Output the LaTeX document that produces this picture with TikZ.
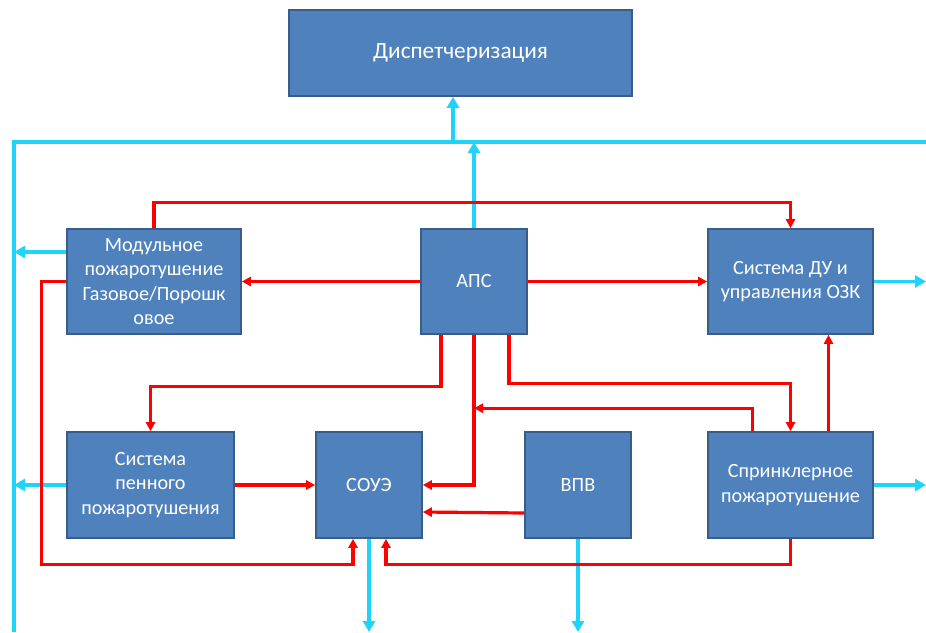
\documentclass[tikz,border=0pt]{standalone}
\usepackage{fontspec}
\setmainfont{Carlito}
\usepackage{tikz}
\usetikzlibrary{arrows.meta, positioning, calc}
\definecolor{boxBlue}{RGB}{79,129,189}
\definecolor{boxEdge}{RGB}{56,93,138}
\definecolor{busCyan}{RGB}{30,212,250}
\definecolor{linkRed}{RGB}{255,0,0}
\begin{document}
\begin{tikzpicture}[x=1pt, y=-1pt,
      block/.style={draw=boxEdge, line width=1.6pt, fill=boxBlue, text=white, inner sep=0pt,
      minimum height=105pt, align=center, font=\fontsize{20.2}{24.5}\selectfont},
      link/.style={-{Triangle[length=9pt,width=9pt]}, line width=3.2pt, draw=linkRed},
      bus/.style={line width=3.8pt, draw=busCyan},
      busarrow/.style={bus, -{Triangle[length=11pt,width=12pt]}}
    ]
    \useasboundingbox (0,0) rectangle (926,632);
    \node[block, minimum width=343pt, minimum height=86pt, font=\fontsize{23.3}{27}\selectfont] (disp) at (460.5,53) {Диспетчеризация};
    \node[block, minimum width=174pt] (modul) at (154,281.5) {Модульное\\пожаротушение\\Газовое/Порошк\\овое};
    \node[block, minimum width=106pt] (aps) at (474,281.5) {АПС};
    \node[block, minimum width=165pt] (du) at (790.5,281.5) {Система ДУ и\\управления ОЗК};
    \node[block, minimum width=167pt, minimum height=106pt] (foam) at (150.5,485) {Система\\пенного\\пожаротушения};
    \node[block, minimum width=106pt, minimum height=106pt] (soue) at (369,485) {СОУЭ};
    \node[block, minimum width=106pt, minimum height=106pt] (vpv) at (578,485) {ВПВ};
    \node[block, minimum width=165pt, minimum height=106pt] (sprink) at (790.5,485) {Спринклерное\\пожаротушение};

    \coordinate (busNW) at (14,142);
    \coordinate (busNE) at (926,142);
    \coordinate (busSW) at (14,632);
    \coordinate (modout) at ([yshift=29.5pt]modul.west);

    \draw[bus] (busSW) -- (busNW) -- (busNE);
    \draw[busarrow] (aps.north) -- (aps.north |- busNW);
    \draw[busarrow] ([xshift=-7.5pt]disp.south |- busNW) -- ([xshift=-7.5pt]disp.south);
    \draw[busarrow] (modout) -- (busNW |- modout);
    \draw[busarrow] (foam.west) -- (busNW |- foam.west);
    \draw[busarrow] (du.east) -- (du.east -| busNE);
    \draw[busarrow] (sprink.east) -- (sprink.east -| busNE);
    \draw[busarrow] (soue.south) -- (soue.south |- busSW);
    \draw[busarrow] (vpv.south) -- (vpv.south |- busSW);

    \draw[link] (modul.north) -- ++(0,-26) -| (du.north);
    \draw[link] (aps.west) -- (modul.east);
    \draw[link] (aps.east) -- (du.west);
    \draw[link] ([xshift=-33pt]aps.south) -- ++(0,52) -| (foam.north);
    \draw[link] (aps.south) |- (soue.east);
    \draw[link] ([xshift=35pt]aps.south) -- ++(0,49) -| (sprink.north);
    \path ([xshift=-38pt]sprink.north) ++(0,-23) coordinate (sprup);
    \draw[link] ([xshift=-38pt]sprink.north) -- (sprup) -- (sprup -| aps.south);
    \draw[link] ([xshift=38pt]sprink.north) -- ([xshift=38pt]du.south);
    \draw[link] ([yshift=-28pt]vpv.west) -- ([yshift=-27pt]soue.east);
    \draw[link] (foam.east) -- (soue.west);
    \draw[link] (modul.west) -- ++(-25,0) |- ([xshift=-16pt,yshift=-26pt]soue.south) -- ([xshift=-16pt]soue.south);
    \draw[link] (sprink.south) -- ++(0,26) -| ([xshift=17pt]soue.south);
  \end{tikzpicture}
\end{document}
